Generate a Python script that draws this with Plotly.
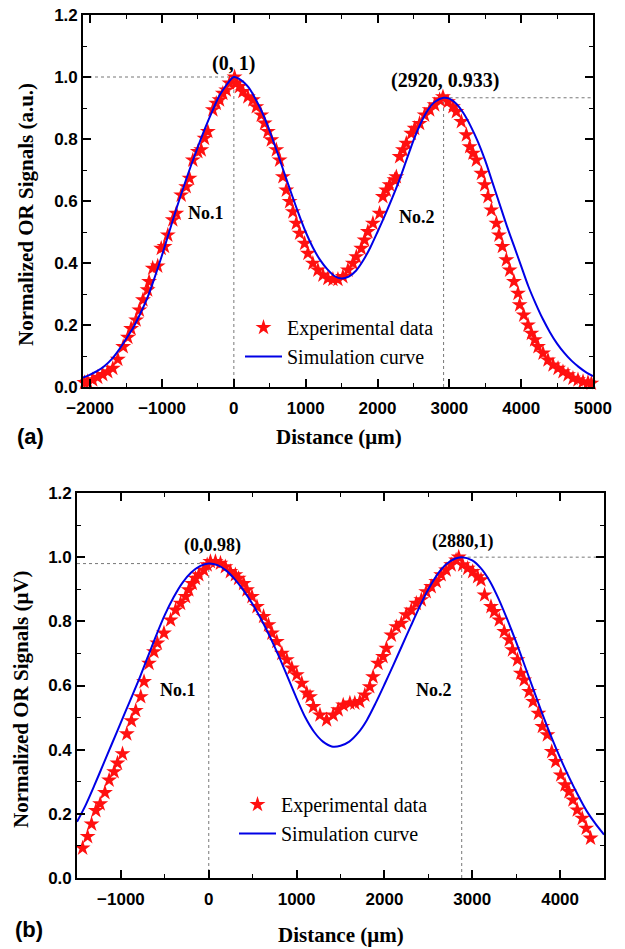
import plotly.graph_objects as go

# ---- panel (a) data ----
exp_a_x = [-2080, -2035, -1965, -1895, -1825, -1755, -1685, -1615, -1540, -1475, -1430, -1360, -1315,
           -1265, -1200, -1180, -1130, -1060, -1011, -965, -919, -850, -802, -733, -663, -617, -571,
           -501, -454, -408, -362, -292, -245, -199, -153, -106, -60, 10, 33, 79, 126, 195, 265, 312,
           382, 428, 474, 521, 591, 637, 683, 730, 776, 822, 869, 915, 985, 1031, 1100, 1170, 1240,
           1309, 1379, 1449, 1518, 1588, 1657, 1705, 1774, 1820, 1866, 1936, 2029, 2075, 2122, 2168,
           2238, 2262, 2308, 2354, 2401, 2471, 2517, 2586, 2656, 2726, 2796, 2865, 2911, 2981, 3050,
           3097, 3167, 3237, 3283, 3329, 3376, 3446, 3492, 3538, 3585, 3655, 3691, 3738, 3794, 3840,
           3900, 3956, 3979, 4035, 4095, 4142, 4188, 4234, 4304, 4373, 4443, 4513, 4582, 4652, 4721,
           4791, 4861, 4930, 4977]
exp_a_y = [0.014, 0.017, 0.023, 0.031, 0.040, 0.049, 0.060, 0.089, 0.130, 0.160, 0.188, 0.216, 0.248,
           0.281, 0.313, 0.340, 0.383, 0.390, 0.447, 0.453, 0.490, 0.539, 0.560, 0.619, 0.646, 0.673, 0.732,
           0.759, 0.765, 0.802, 0.824, 0.894, 0.915, 0.926, 0.947, 0.958, 0.980, 1.000, 0.980, 0.969, 0.953,
           0.936, 0.926, 0.904, 0.877, 0.851, 0.824, 0.797, 0.765, 0.732, 0.678, 0.635, 0.598, 0.565, 0.528,
           0.496, 0.463, 0.431, 0.399, 0.377, 0.361, 0.350, 0.347, 0.347, 0.356, 0.377, 0.399, 0.420, 0.447,
           0.474, 0.501, 0.528, 0.560, 0.614, 0.635, 0.652, 0.668, 0.678, 0.743, 0.765, 0.786, 0.818, 0.834,
           0.850, 0.877, 0.894, 0.910, 0.926, 0.936, 0.920, 0.904, 0.888, 0.856, 0.813, 0.775, 0.754, 0.732,
           0.689, 0.652, 0.614, 0.571, 0.528, 0.490, 0.453, 0.410, 0.377, 0.340, 0.302, 0.265, 0.232, 0.200,
           0.173, 0.152, 0.130, 0.109, 0.087, 0.071, 0.060, 0.049, 0.039, 0.028, 0.023, 0.017, 0.014, 0.012]

sim_a_x = [-2100, -2000, -1900, -1800, -1700, -1600, -1500, -1400, -1300, -1200, -1100, -1000, -900,
           -800, -700, -600, -500, -400, -300, -200, -100, 0, 100, 200, 300, 400, 500, 600, 700, 800,
           900, 1000, 1100, 1200, 1300, 1400, 1500, 1600, 1700, 1800, 1900, 2000, 2100, 2200, 2300,
           2400, 2500, 2600, 2700, 2800, 2920, 3000, 3100, 3200, 3300, 3400, 3500, 3600, 3700, 3800,
           3900, 4000, 4100, 4200, 4300, 4400, 4500, 4600, 4700, 4800, 4900, 5000]
sim_a_y = [0.030, 0.040, 0.052, 0.068, 0.090, 0.120, 0.155, 0.192, 0.238, 0.290, 0.355, 0.425, 0.500,
           0.575, 0.645, 0.712, 0.775, 0.835, 0.890, 0.940, 0.975, 1.000, 0.990, 0.968, 0.930, 0.883,
           0.825, 0.760, 0.692, 0.625, 0.560, 0.500, 0.450, 0.410, 0.380, 0.358, 0.350, 0.356, 0.375,
           0.408, 0.450, 0.500, 0.552, 0.607, 0.665, 0.730, 0.795, 0.850, 0.893, 0.920, 0.933, 0.930,
           0.913, 0.882, 0.840, 0.790, 0.730, 0.660, 0.590, 0.520, 0.455, 0.390, 0.325, 0.270, 0.220,
           0.177, 0.140, 0.110, 0.085, 0.065, 0.048, 0.035]

peaks_a = [(0, 1.0), (2920, 0.933)]

# ---- panel (b) data ----
exp_b_x = [-1436, -1379, -1334, -1285, -1236, -1182, -1134, -1077, -1039, -982, -933, -880, -831, -774,
           -737, -680, -624, -585, -510, -434, -378, -321, -264, -227, -188, -151, -113, -57, -18, 19,
           76, 133, 189, 246, 303, 340, 397, 435, 492, 549, 624, 680, 719, 775, 832, 889, 946, 1002,
           1059, 1116, 1153, 1191, 1266, 1342, 1417, 1474, 1531, 1607, 1663, 1720, 1777, 1833, 1871,
           1927, 1984, 2023, 2079, 2136, 2193, 2249, 2306, 2363, 2420, 2476, 2533, 2590, 2646, 2703,
           2760, 2816, 2846, 2891, 2948, 3005, 3061, 3100, 3140, 3213, 3251, 3307, 3364, 3420, 3458,
           3515, 3553, 3591, 3647, 3693, 3753, 3798, 3855, 3905, 3950, 4007, 4056, 4101, 4146, 4195,
           4252, 4297, 4347]
exp_b_y = [0.093, 0.129, 0.168, 0.210, 0.231, 0.266, 0.305, 0.331, 0.358, 0.387, 0.449, 0.490, 0.522,
           0.565, 0.612, 0.669, 0.705, 0.732, 0.763, 0.804, 0.835, 0.856, 0.877, 0.898, 0.918, 0.934,
           0.945, 0.960, 0.976, 0.986, 0.986, 0.981, 0.970, 0.955, 0.945, 0.934, 0.918, 0.898, 0.877,
           0.846, 0.815, 0.789, 0.763, 0.737, 0.700, 0.680, 0.654, 0.633, 0.607, 0.576, 0.565, 0.534,
           0.508, 0.493, 0.508, 0.524, 0.539, 0.545, 0.545, 0.550, 0.570, 0.596, 0.627, 0.669, 0.690,
           0.716, 0.757, 0.783, 0.794, 0.820, 0.835, 0.856, 0.867, 0.892, 0.908, 0.924, 0.945, 0.960,
           0.976, 0.991, 1.000, 0.976, 0.965, 0.955, 0.939, 0.929, 0.882, 0.846, 0.830, 0.804, 0.768,
           0.742, 0.711, 0.680, 0.638, 0.617, 0.581, 0.550, 0.513, 0.472, 0.446, 0.394, 0.363, 0.321,
           0.290, 0.269, 0.243, 0.212, 0.186, 0.155, 0.124]

sim_b_x = [-1500, -1400, -1300, -1200, -1100, -1000, -900, -800, -700, -600, -500, -400, -300, -200,
           -100, 0, 100, 200, 300, 400, 500, 600, 700, 800, 900, 1000, 1100, 1200, 1300, 1400, 1500,
           1600, 1700, 1800, 1900, 2000, 2100, 2200, 2300, 2400, 2500, 2600, 2700, 2800, 2880, 3000,
           3100, 3200, 3300, 3400, 3500, 3600, 3700, 3800, 3900, 4000, 4100, 4200, 4300, 4400, 4500]
sim_b_y = [0.175, 0.228, 0.290, 0.355, 0.420, 0.485, 0.550, 0.615, 0.685, 0.755, 0.820, 0.875, 0.920,
           0.952, 0.972, 0.980, 0.975, 0.958, 0.930, 0.895, 0.853, 0.805, 0.750, 0.690, 0.625, 0.560,
           0.500, 0.455, 0.425, 0.410, 0.412, 0.425, 0.452, 0.492, 0.545, 0.603, 0.663, 0.724, 0.785,
           0.845, 0.900, 0.945, 0.977, 0.995, 1.000, 0.990, 0.965, 0.925, 0.870, 0.805, 0.735, 0.660,
           0.585, 0.510, 0.440, 0.375, 0.315, 0.260, 0.210, 0.170, 0.135]

peaks_b = [(0, 0.98), (2880, 1.0)]

W, H = 625, 949
SERIF = "Liberation Serif"
SANS = "Liberation Sans"
RED = "#ff1010"
BLUE = "#0000e6"

fig = go.Figure()
fig.add_trace(go.Scatter(x=exp_a_x, y=exp_a_y, mode="markers", name="Experimental data",
                         marker=dict(symbol="star", size=12, color=RED, line=dict(width=0)),
                         cliponaxis=False, xaxis="x", yaxis="y", legend="legend"))
fig.add_trace(go.Scatter(x=sim_a_x, y=sim_a_y, mode="lines", name="Simulation curve",
                         line=dict(color=BLUE, width=2, shape="spline", smoothing=0.8),
                         xaxis="x", yaxis="y", legend="legend"))
fig.add_trace(go.Scatter(x=exp_b_x, y=exp_b_y, mode="markers", name="Experimental data",
                         marker=dict(symbol="star", size=12, color=RED, line=dict(width=0)),
                         cliponaxis=False, xaxis="x2", yaxis="y2", legend="legend2"))
fig.add_trace(go.Scatter(x=sim_b_x, y=sim_b_y, mode="lines", name="Simulation curve",
                         line=dict(color=BLUE, width=2, shape="spline", smoothing=0.8),
                         xaxis="x2", yaxis="y2", legend="legend2"))

# dotted guide lines at the peaks
def guides(peaks, xr, yr, xlo, xhi):
    out = []
    (p1x, p1y), (p2x, p2y) = peaks
    style = dict(color="#777777", width=1, dash="dot")
    out.append(dict(type="line", xref=xr, yref=yr, x0=xlo, x1=p1x, y0=p1y, y1=p1y, line=style, layer="below"))
    out.append(dict(type="line", xref=xr, yref=yr, x0=p1x, x1=p1x, y0=0, y1=p1y, line=style, layer="below"))
    out.append(dict(type="line", xref=xr, yref=yr, x0=p2x, x1=xhi, y0=p2y, y1=p2y, line=style, layer="below"))
    out.append(dict(type="line", xref=xr, yref=yr, x0=p2x, x1=p2x, y0=0, y1=p2y, line=style, layer="below"))
    return out

shapes = guides(peaks_a, "x", "y", -2100, 5000) + guides(peaks_b, "x2", "y2", -1500, 4500)

def ax(rng, dtick, mdtick, domain, anchor, fmt=None, standoff=0):
    d = dict(range=rng, domain=domain, anchor=anchor, dtick=dtick, tick0=0, automargin=False,
             showline=True, linecolor="black", linewidth=1.6, mirror="allticks",
             ticks="inside", ticklen=8, tickwidth=1.6, tickcolor="black",
             showgrid=False, zeroline=False, ticklabelstandoff=standoff,
             tickfont=dict(family=SANS, size=17, color="black", weight="bold"),
             minor=dict(dtick=mdtick, tick0=0, ticks="inside", ticklen=4, tickwidth=1.4, tickcolor="black",
                        showgrid=False))
    if fmt:
        d["tickformat"] = fmt
    return d

def px_x(p):
    return p / W

def px_y(p):
    return 1 - p / H

ann = []
def txt(text, x, y, xref, yref, size, family=SERIF, bold=True, angle=0):
    ann.append(dict(text=text, x=x, y=y, xref=xref, yref=yref, showarrow=False, textangle=angle,
                    font=dict(family=family, size=size, color="black", weight="bold" if bold else "normal"),
                    xanchor="center", yanchor="middle"))

# panel (a) texts
txt("(0, 1)", 0, 1.045, "x", "y", 20)
txt("(2920, 0.933)", 2944, 0.99, "x", "y", 20)
txt("No.1", -384, 0.56, "x", "y", 18)
txt("No.2", 2549, 0.549, "x", "y", 18)
txt("Normalized OR Signals (a.u.)", px_x(26), px_y(215), "paper", "paper", 21, angle=-90)
txt("Distance (μm)", px_x(339), px_y(437), "paper", "paper", 21)
txt("(a)", px_x(30), px_y(437), "paper", "paper", 22, family=SANS)

# panel (b) texts
txt("(0,0.98)", 44, 1.035, "x2", "y2", 18)
txt("(2880,1)", 2899, 1.048, "x2", "y2", 18)
txt("No.1", -351, 0.586, "x2", "y2", 18)
txt("No.2", 2570, 0.586, "x2", "y2", 18)
txt("Normalized OR Signals (μV)", px_x(21), px_y(700), "paper", "paper", 21, angle=-90)
txt("Distance (μm)", px_x(341), px_y(935), "paper", "paper", 21)
txt("(b)", px_x(29), px_y(929), "paper", "paper", 22, family=SANS)

leg = dict(font=dict(family=SERIF, size=20, color="black"), bgcolor="rgba(0,0,0,0)",
           xanchor="left", yanchor="top", itemwidth=37, tracegroupgap=0)

fig.update_layout(
    width=W, height=H,
    margin=dict(l=0, r=0, t=0, b=0),
    paper_bgcolor="white", plot_bgcolor="white",
    xaxis=ax([-2100, 5000], 1000, 500, [px_x(83), px_x(593)], "y", standoff=5),
    yaxis=ax([0, 1.2], 0.2, 0.1, [px_y(387), px_y(15)], "x", ".1f"),
    xaxis2=ax([-1500, 4500], 1000, 500, [px_x(77), px_x(604)], "y2", standoff=5),
    yaxis2=ax([0, 1.2], 0.2, 0.1, [px_y(878), px_y(493)], "x2", ".1f"),
    legend=dict(leg, x=px_x(240), y=px_y(308)),
    legend2=dict(leg, x=px_x(234), y=px_y(785)),
    shapes=shapes,
    annotations=ann,
)

# drop the page's default body margin so the figure sits at the window corner
fig.write_html("out.html", config={"displayModeBar": False},
               post_script="document.body.style.margin='0';")
